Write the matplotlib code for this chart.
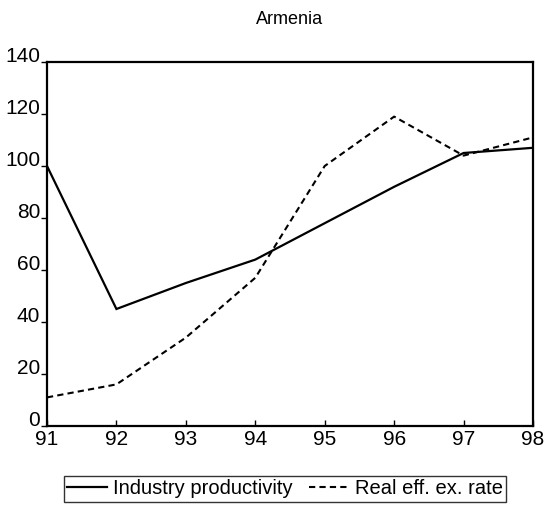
import matplotlib
matplotlib.use("Agg")
import matplotlib.pyplot as plt

years = [91, 92, 93, 94, 95, 96, 97, 98]
year_labels = ["91", "92", "93", "94", "95", "96", "97", "98"]
industry_productivity = [100, 45, 55, 64, 78, 92, 105, 107]
real_eff_ex_rate = [11, 16, 34, 57, 100, 119, 104, 111]
y_ticks = [0, 20, 40, 60, 80, 100, 120, 140]

plt.rcParams['font.family'] = ['Liberation Sans', 'DejaVu Sans']

fig = plt.figure(figsize=(5.49, 5.08), dpi=100)
ax = fig.add_axes([47/549, 1 - 426/508, (533-47)/549, (426-62)/508])

ax.plot(years, industry_productivity, color='black', lw=1.6, solid_joinstyle='miter',
        label='Industry productivity')
ax.plot(years, real_eff_ex_rate, color='black', lw=1.5, linestyle=(0, (3, 2)),
        label='Real eff. ex. rate')

ax.set_xlim(91, 98)
ax.set_ylim(0, 140)
ax.set_xticks(years)
ax.set_xticklabels(year_labels)
ax.set_yticks(y_ticks)
ax.set_yticklabels([str(v) for v in y_ticks], va='baseline')

for s in ax.spines.values():
    s.set_linewidth(1.6)
    s.set_color('black')

ax.tick_params(axis='x', direction='in', length=4, width=1, pad=3, labelsize=15)
ax.tick_params(axis='y', direction='out', length=4, width=1, pad=1, labelsize=15)

fig.text(290/549, 1 - 20/508, 'Armenia', ha='center', va='center', fontsize=13)

leg = fig.legend(loc='center', bbox_to_anchor=(285/549, 1 - 489/508), ncol=2,
                 fontsize=14.5, frameon=True, fancybox=False, handlelength=2.0,
                 handletextpad=0.3, columnspacing=0.8, borderpad=0.15,
                 borderaxespad=0)
leg.get_frame().set_edgecolor('black')
leg.get_frame().set_linewidth(1.0)

fig.savefig('out.png', dpi=100)
